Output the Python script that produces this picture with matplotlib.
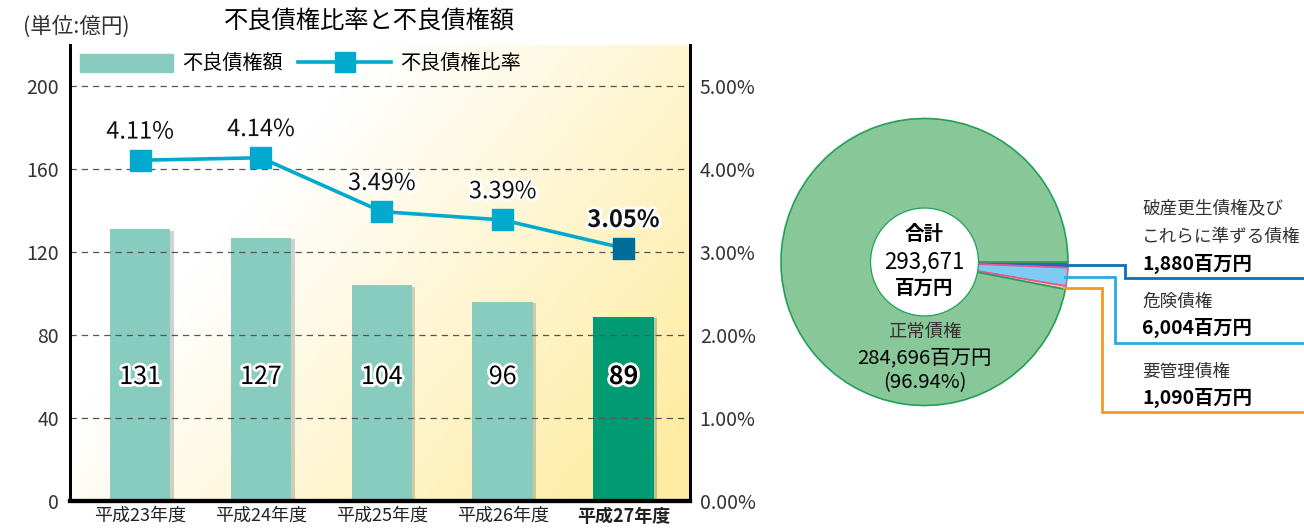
import numpy as np
import matplotlib.pyplot as plt
import matplotlib.patheffects as pe
from matplotlib.patches import Circle, Patch
from matplotlib.lines import Line2D

plt.rcParams['font.family'] = ['Noto Sans CJK JP', 'DejaVu Sans']

# Bar / line chart data
years = ['平成23年度', '平成24年度', '平成25年度', '平成26年度', '平成27年度']
amounts = [131, 127, 104, 96, 89]          # 不良債権額 (億円)
ratios = [4.11, 4.14, 3.49, 3.39, 3.05]    # 不良債権比率 (%)
amount_ticks = [0, 40, 80, 120, 160, 200]
ratio_ticks = [0, 1, 2, 3, 4, 5]

# Pie chart data (百万円), clockwise from 3 o'clock
pie_names = ['破産更生債権及び\nこれらに準ずる債権', '危険債権', '要管理債権', '正常債権']
pie_values = [1880, 6004, 1090, 284696]
pie_total = 293671
normal_share = 96.94

W, H = 1304, 531
fig = plt.figure(figsize=(W / 100, H / 100), dpi=100)

# ---- left chart ----
ax = fig.add_axes([70 / W, 1 - 501 / H, (690 - 70) / W, (501 - 45) / H])
ax2 = ax.twinx()
x = np.arange(len(years))

# background gradient white -> pale yellow
gx, gy = np.meshgrid(np.linspace(0, 1, 200), np.linspace(0, 1, 200))
t = np.clip((gx * 0.9 + gy * 0.55 - 0.45) / 0.9, 0, 1)
c0 = np.array([1.0, 1.0, 1.0])
c1 = np.array([0.996, 0.925, 0.64])
img = c0 + (c1 - c0) * t[..., None]
ax.imshow(img, extent=[0, 1, 0, 1], transform=ax.transAxes, origin='upper',
          aspect='auto', zorder=0)

bar_colors = ['#88cbbf'] * 4 + ['#009b73']
bars = ax.bar(x, amounts, width=0.5, color=bar_colors, zorder=2)
for b in bars:
    b.set_path_effects([pe.SimplePatchShadow(offset=(2.5, -1), alpha=0.22), pe.Normal()])

stroke = [pe.withStroke(linewidth=4, foreground='white')]
for i, v in enumerate(amounts):
    ax.text(x[i], 59.8, str(v), ha='center', va='center', fontsize=18,
            fontweight='bold' if i == 4 else 'normal', color='black',
            path_effects=stroke, zorder=5)

ax.set_ylim(0, 220)
ax.set_xlim(-0.58, 4.55)
ax.set_yticks(amount_ticks)
ax.grid(axis='y', linestyle=(0, (5, 4)), color='#555555', linewidth=0.9, zorder=1)
ax.set_axisbelow(False)
ax.set_xticks(x)
ax.set_xticklabels(years, fontsize=13, color='#222222')
ax.get_xticklabels()[-1].set_fontweight('bold')
ax.tick_params(axis='y', length=0, labelsize=14, colors='#333333', pad=8)
ax.tick_params(axis='x', length=0, pad=4)

ax2.plot(x, ratios, color='#00a9ce', linewidth=2.6, zorder=3)
mcol = ['#00a9ce'] * 4 + ['#006c98']
ax2.scatter(x, ratios, marker='s', s=230, c=mcol, zorder=4)
for i, v in enumerate(ratios):
    ax2.text(x[i], v + 0.34, f'{v:.2f}%', ha='center', va='center', fontsize=17,
             fontweight='bold' if i == 4 else 'normal', color='#111111',
             path_effects=stroke, zorder=6)
ax2.set_ylim(0, 5.5)
ax2.set_yticks(ratio_ticks)
ax2.set_yticklabels([f'{v:.2f}%' for v in ratio_ticks])
ax2.tick_params(axis='y', length=0, labelsize=14, colors='#333333', pad=7)

for a in (ax, ax2):
    a.spines['top'].set_visible(False)
    a.spines['left'].set_linewidth(2)
    a.spines['right'].set_linewidth(2)
    a.spines['bottom'].set_linewidth(3)

handles = [Patch(color='#88cbbf'),
           Line2D([], [], color='#00a9ce', linewidth=2.6, marker='s', markersize=14.4)]
ax.legend(handles, ['不良債権額', '不良債権比率'], loc='upper left', ncol=2,
          bbox_to_anchor=(10 / 620, 1 - 9 / 456), frameon=False, fontsize=14.5,
          borderpad=0, borderaxespad=0,
          handlelength=4.6, handleheight=0.95, handletextpad=0.45, columnspacing=0.8)

fig.text(23 / W, 1 - 27 / H, '(単位:億円)', fontsize=15.5, color='#333333', va='center')
fig.text(369 / W, 1 - 22 / H, '不良債権比率と不良債権額', fontsize=17.5, color='black',
         ha='center', va='center')

# ---- pie chart ----
cx, cy, r = 924.5, 262, 143.5
axp = fig.add_axes([(cx - r) / W, 1 - (cy + r) / H, 2 * r / W, 2 * r / H])
wedges, _ = axp.pie(pie_values, startangle=0, counterclock=False, radius=1)
wcol = ['#1a6fb5', '#7ecbf0', '#f9caa6', '#88c898']
wedge_edge = ['#e8559a', '#e8559a', '#e8559a', '#22a05a']
for w, fc, ec in zip(wedges, wcol, wedge_edge):
    w.set_facecolor(fc)
    w.set_edgecolor(ec)
    w.set_linewidth(1.2)
    w.set_clip_on(False)
axp.add_patch(Circle((0, 0), 0.376, facecolor='white', edgecolor='#22a05a',
                     linewidth=0.9, zorder=5))
axp.set_xlim(-1, 1)
axp.set_ylim(-1, 1)
axp.set_axis_off()

overlay = fig.add_axes([0, 0, 1, 1], zorder=10)
overlay.set_xlim(0, W)
overlay.set_ylim(H, 0)
overlay.set_axis_off()
overlay.patch.set_alpha(0)

overlay.text(cx, 235, '合計', ha='center', va='center', fontsize=14, fontweight='bold')
overlay.text(cx, 262, f'{pie_total:,}', ha='center', va='center', fontsize=16)
overlay.text(cx, 288, '百万円', ha='center', va='center', fontsize=14, fontweight='bold')
overlay.text(cx, 332, pie_names[3], ha='center', va='center', fontsize=13.2, color='#333333')
overlay.text(cx, 358, f'{pie_values[3]:,}百万円', ha='center', va='center', fontsize=14.7)
overlay.text(cx, 383, f'({normal_share:.2f}%)', ha='center', va='center', fontsize=14.7)

# leader lines and labels for the small slices
line_cols = ['#0e6eb8', '#29abe2', '#f39a1e']
bend_x = [1125, 1115, 1102]
end_y = [278, 343, 412]
name_y = [208, 302, 372]
value_y = [264, 328, 398]
label_x = 1142
cum = 0
for i in range(3):
    mid = -(cum + pie_values[i] / 2) / sum(pie_values) * 2 * np.pi
    cum += pie_values[i]
    sx = cx + r * np.cos(mid) - 2
    sy = cy - r * np.sin(mid)
    overlay.plot([sx, bend_x[i], bend_x[i], W], [sy, sy, end_y[i], end_y[i]],
                 color=line_cols[i], linewidth=2, solid_joinstyle='miter')
    lines = pie_names[i].split('\n')
    for k, txt in enumerate(lines):
        overlay.text(label_x, name_y[i] + 29 * k, txt, fontsize=12.7, va='center',
                     color='#333333')
    overlay.text(label_x, value_y[i], f'{pie_values[i]:,}百万円', fontsize=13.9,
                 fontweight='bold', va='center', color='black')

fig.savefig('out.png', dpi=100)
